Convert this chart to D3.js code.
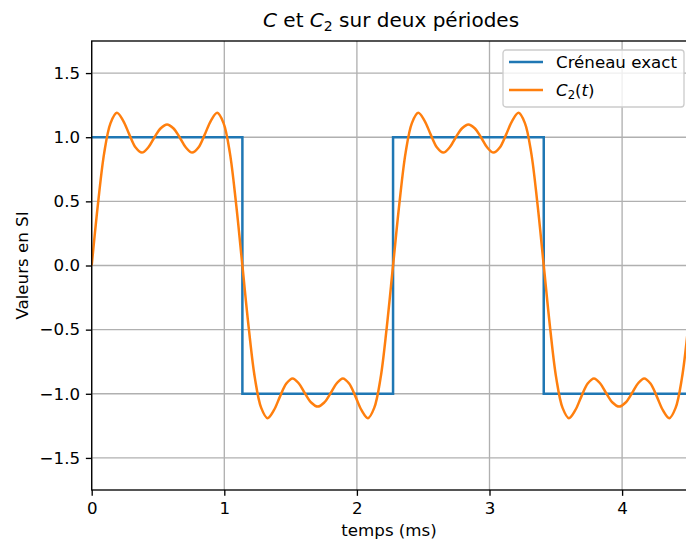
<!DOCTYPE html>
<html>
<head>
<meta charset="utf-8">
<script src="https://cdn.jsdelivr.net/npm/d3@7"></script>
<style>
  body { margin: 0; background: #fff; }
  svg { display: block; font-family: "DejaVu Sans", sans-serif; }
</style>
</head>
<body>
<svg id="chart" width="686" height="544"></svg>
<script>
'use strict';

// temps en ms, signal a 440 Hz
var period = 1000 / 440;
var dtSample = period / 48; // pas d'echantillonnage de C2

// creneau exact : instants des fronts et niveaux
var creneauT = [0, 1.1364, 2.2727, 3.4091, 4.5];
var creneauV = [1, -1, 1, -1, -1];

// C2(t), un point tous les dtSample
var c2Values = [
  0, 0.48, 0.88, 1.11, 1.19, 1.13, 1.02, 0.92, 0.88, 0.92, 1.00, 1.07,
  1.10, 1.07, 1.00, 0.92, 0.88, 0.92, 1.02, 1.13, 1.19, 1.11, 0.88, 0.48,
  0, -0.48, -0.88, -1.11, -1.19, -1.13, -1.02, -0.92, -0.88, -0.92, -1.00, -1.07,
  -1.10, -1.07, -1.00, -0.92, -0.88, -0.92, -1.02, -1.13, -1.19, -1.11, -0.88, -0.48,
  0, 0.48, 0.88, 1.11, 1.19, 1.13, 1.02, 0.92, 0.88, 0.92, 1.00, 1.07,
  1.10, 1.07, 1.00, 0.92, 0.88, 0.92, 1.02, 1.13, 1.19, 1.11, 0.88, 0.48,
  0, -0.48, -0.88, -1.11, -1.19, -1.13, -1.02, -0.92, -0.88, -0.92, -1.00, -1.07,
  -1.10, -1.07, -1.00, -0.92, -0.88, -0.92, -1.02, -1.13, -1.19, -1.11, -0.88, -0.48
];

var xTicks = [0, 1, 2, 3, 4];
var yTicks = [-1.5, -1.0, -0.5, 0.0, 0.5, 1.0, 1.5];

var blue = "#1f77b4", orange = "#ff7f0e";
var margin = {top: 41, left: 91.7};
var width = 596.7, height = 449;
var pt = 120 / 72; // figure a 120 dpi
var fs = 10 * pt;

var svg = d3.select("#chart");

var x = d3.scaleLinear().domain([0, 4.5]).range([0, width]);
var y = d3.scaleLinear().domain([-1.75, 1.75]).range([height, 0]);

var g = svg.append("g")
  .attr("transform", "translate(" + margin.left + "," + margin.top + ")");

g.append("defs").append("clipPath").attr("id", "clip")
  .append("rect").attr("width", width).attr("height", height);

// grille
g.append("g").selectAll("line").data(xTicks).enter().append("line")
  .attr("x1", d => x(d)).attr("x2", d => x(d))
  .attr("y1", 0).attr("y2", height)
  .attr("stroke", "#b0b0b0").attr("stroke-width", 0.8 * pt);
g.append("g").selectAll("line").data(yTicks).enter().append("line")
  .attr("x1", 0).attr("x2", width)
  .attr("y1", d => y(d)).attr("y2", d => y(d))
  .attr("stroke", "#b0b0b0").attr("stroke-width", 0.8 * pt);

var plot = g.append("g").attr("clip-path", "url(#clip)");

var creneau = creneauT.map((t, i) => [t, creneauV[i]]);
plot.append("path")
  .datum(creneau)
  .attr("fill", "none")
  .attr("stroke", blue)
  .attr("stroke-width", 1.5 * pt)
  .attr("d", d3.line().x(d => x(d[0])).y(d => y(d[1])).curve(d3.curveStepAfter));

var c2 = c2Values.map((v, i) => [i * dtSample, v]);
plot.append("path")
  .datum(c2)
  .attr("fill", "none")
  .attr("stroke", orange)
  .attr("stroke-width", 1.5 * pt)
  .attr("stroke-linejoin", "round")
  .attr("d", d3.line().x(d => x(d[0])).y(d => y(d[1])).curve(d3.curveCatmullRom));

// axes
var fmtY = d => d3.format(".1f")(d).replace("-", "\u2212");
var xAxis = g.append("g")
  .attr("transform", "translate(0," + height + ")")
  .call(d3.axisBottom(x).tickValues(xTicks).tickFormat(d3.format("d")).tickSize(3.5 * pt).tickPadding(3.5 * pt));
var yAxis = g.append("g")
  .call(d3.axisLeft(y).tickValues(yTicks).tickFormat(fmtY).tickSize(3.5 * pt).tickPadding(3.5 * pt));

[xAxis, yAxis].forEach(a => {
  a.select(".domain").remove();
  a.selectAll(".tick line").attr("stroke", "#000").attr("stroke-width", 0.8 * pt);
  a.selectAll(".tick text").attr("fill", "#000").style("font-size", fs + "px")
    .style("font-family", "DejaVu Sans");
});

// cadre
g.append("rect")
  .attr("width", width).attr("height", height)
  .attr("fill", "none").attr("stroke", "#000").attr("stroke-width", 0.8 * pt);

// titre
var title = svg.append("text")
  .attr("x", margin.left + x(4.5) / 2 + 1).attr("y", 27)
  .attr("text-anchor", "middle")
  .style("font-size", (12 * pt) + "px").attr("fill", "#000");
title.append("tspan").attr("font-style", "italic").text("C");
title.append("tspan").text(" et ");
title.append("tspan").attr("font-style", "italic").text("C");
title.append("tspan").attr("dy", 3.5).style("font-size", "14px").text("2");
title.append("tspan").attr("dy", -3.5).text(" sur deux périodes");

svg.append("text")
  .attr("x", margin.left + width / 2 - 1).attr("y", 536)
  .attr("text-anchor", "middle")
  .style("font-size", fs + "px").text("temps (ms)");

svg.append("text")
  .attr("transform", "translate(28," + (margin.top + height / 2) + ") rotate(-90)")
  .attr("text-anchor", "middle")
  .style("font-size", fs + "px").text("Valeurs en SI");

// legende
var leg = svg.append("g").attr("transform", "translate(503,50)");
leg.append("rect")
  .attr("width", 181).attr("height", 57).attr("rx", 3)
  .attr("fill", "#fff").attr("fill-opacity", 0.8)
  .attr("stroke", "#cccccc").attr("stroke-width", 0.8 * pt);
var items = [
  {color: blue, y: 12},
  {color: orange, y: 40}
];
leg.selectAll("line.item").data(items).enter().append("line")
  .attr("class", "item")
  .attr("x1", 6).attr("x2", 40)
  .attr("y1", d => d.y).attr("y2", d => d.y)
  .attr("stroke", d => d.color).attr("stroke-width", 1.5 * pt);
leg.append("text").attr("x", 53).attr("y", 18)
  .style("font-size", fs + "px").text("Créneau exact");
var l2 = leg.append("text").attr("x", 53).attr("y", 46).style("font-size", fs + "px");
l2.append("tspan").attr("font-style", "italic").text("C");
l2.append("tspan").attr("dy", 3).style("font-size", "11.7px").text("2");
l2.append("tspan").attr("dy", -3).text("(");
l2.append("tspan").attr("font-style", "italic").text("t");
l2.append("tspan").text(")");
</script>
</body>
</html>
